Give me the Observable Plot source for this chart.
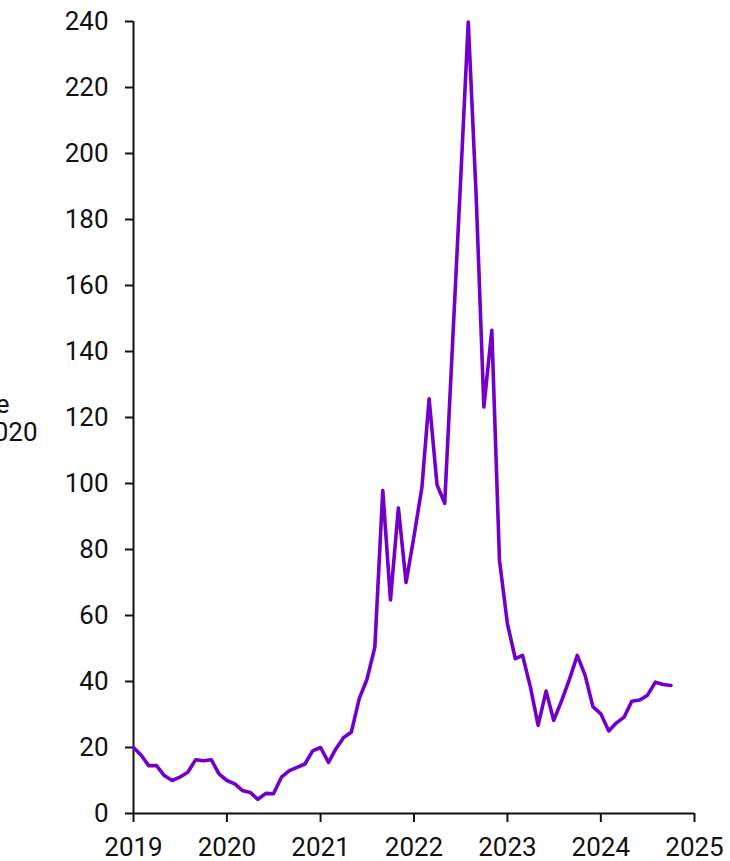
<!DOCTYPE html>
<html>
<head>
<meta charset="utf-8">
<script src="https://cdn.jsdelivr.net/npm/d3@7"></script>
<script src="https://cdn.jsdelivr.net/npm/@observablehq/plot@0.6"></script>
<style>
  html, body { margin: 0; padding: 0; background: #fff; }
  #chart { width: 730px; height: 861px; overflow: hidden; }
</style>
</head>
<body>
<div id="chart"></div>
<script>
// Monthly series, starting January 2019
const startYear = 2019;
const values = [
  20, 17.6, 14.5, 14.5, 11.5, 10, 11, 12.5, 16.3, 16, 16.3, 12,          // 2019
  10, 9, 7, 6.4, 4.3, 6.1, 6, 11, 13, 14, 15, 19,                        // 2020
  20, 15.5, 19.5, 23, 24.6, 34.8, 40.6, 50.4, 97.9, 64.7, 92.6, 70,      // 2021
  84, 98.9, 125.7, 99.6, 94, 143, 190, 239.8, 187, 123.2, 146.4, 76.7,   // 2022
  57.5, 46.9, 47.9, 38.3, 26.7, 37.1, 28.2, 34.2, 40.8, 47.9, 41.8, 32.4,// 2023
  30.2, 25, 27.4, 29.2, 34, 34.4, 35.8, 39.8, 39.1, 38.8                 // 2024
];
const yTicks = [0, 20, 40, 60, 80, 100, 120, 140, 160, 180, 200, 220, 240];
const xTickYears = [2019, 2020, 2021, 2022, 2023, 2024, 2025];
const labelLines = ["Wholesale gas price", "Index, Jan 2020"];

const data = values.map((v, i) => ({date: new Date(Date.UTC(startYear, i, 1)), value: v}));
const xTicks = xTickYears.map(y => new Date(Date.UTC(y, 0, 1)));

const ink = "#111";
const fontSize = 26;

const chart = Plot.plot({
  width: 730,
  height: 861,
  marginLeft: 133,
  marginRight: 36,
  marginTop: 21,
  marginBottom: 48,
  style: {fontFamily: "Roboto, 'Liberation Sans', sans-serif", fontSize: fontSize + "px", color: ink, background: "#fff"},
  x: {type: "utc", domain: [xTicks[0], xTicks[xTicks.length - 1]]},
  y: {domain: [yTicks[0], yTicks[yTicks.length - 1]]},
  marks: [
    Plot.axisY(yTicks, {tickSize: 8, tickPadding: 17, stroke: ink, strokeWidth: 2, fill: ink, fontSize, label: null}),
    Plot.axisX(xTicks, {tickSize: 9, tickPadding: 15, stroke: ink, strokeWidth: 2, fill: ink, fontSize, tickFormat: d3.utcFormat("%Y"), label: null}),
    Plot.ruleX([xTicks[0]], {stroke: ink, strokeWidth: 2}),
    Plot.ruleY([yTicks[0]], {stroke: ink, strokeWidth: 2}),
    Plot.line(data, {x: "date", y: "value", stroke: "#7200c8", strokeWidth: 3.6, strokeLinejoin: "round", strokeLinecap: "round"}),
    Plot.text([labelLines[0]], {text: d => d, frameAnchor: "left", textAnchor: "end", dx: -124, dy: -13, fill: ink, fontSize}),
    Plot.text([labelLines[1]], {text: d => d, frameAnchor: "left", textAnchor: "end", dx: -96, dy: 15, fill: ink, fontSize})
  ]
});
document.getElementById("chart").append(chart);
</script>
</body>
</html>
